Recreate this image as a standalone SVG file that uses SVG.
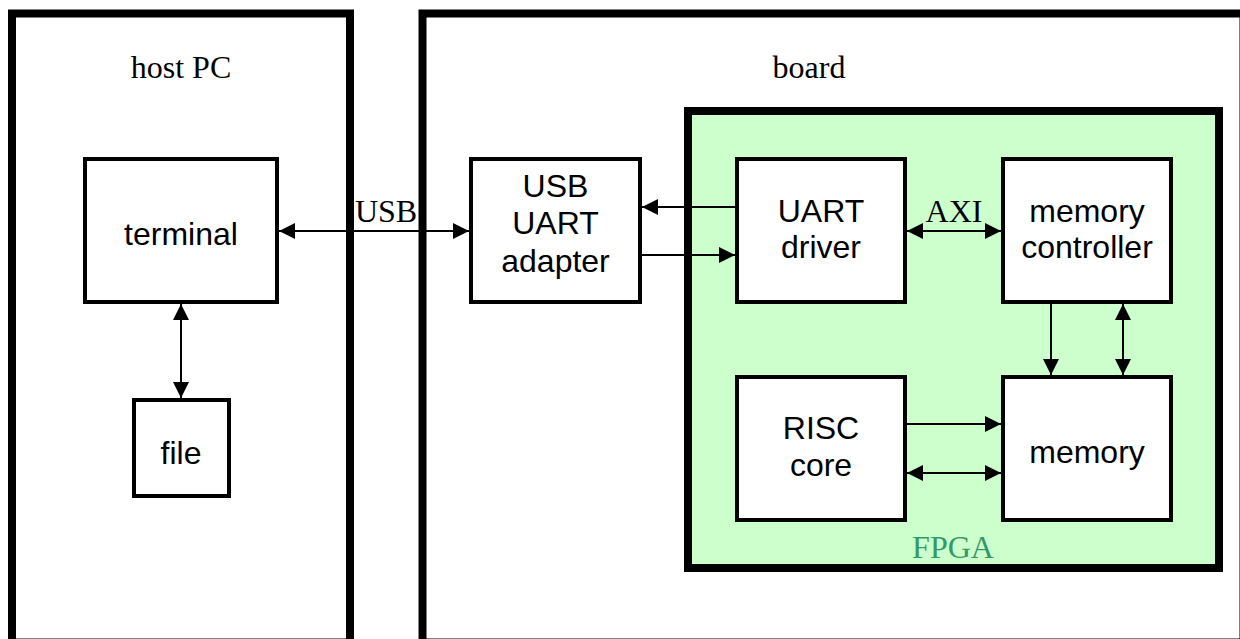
<svg xmlns="http://www.w3.org/2000/svg" width="1240" height="639" viewBox="0 0 1240 639">
  <style>
    .frame { fill: #ffffff; stroke: #000000; stroke-width: 8; }
    .fpga { fill: #ccffcc; stroke: #000000; stroke-width: 8; }
    .box { fill: #ffffff; stroke: #000000; stroke-width: 4; }
    .serif { font-family: "Liberation Serif", "Times New Roman", serif; font-size: 32px; text-anchor: middle; fill: #000000; }
    .sans { font-family: "Liberation Sans", Arial, sans-serif; font-size: 32px; text-anchor: middle; fill: #000000; }
    .green { fill: #339966; }
    .wire { fill: none; stroke: #000000; stroke-width: 2; }
    .one { marker-end: url(#head); }
    .two { marker-start: url(#tail); marker-end: url(#head); }
  </style>
  <defs>
    <marker id="head" markerUnits="userSpaceOnUse" markerWidth="16" markerHeight="16" viewBox="0 0 15 15" refX="15" refY="7.5" orient="auto">
      <path d="M0,0 L15,7.5 L0,15 z" fill="#000000"/>
    </marker>
    <marker id="tail" markerUnits="userSpaceOnUse" markerWidth="16" markerHeight="16" viewBox="0 0 15 15" refX="0" refY="7.5" orient="auto">
      <path d="M15,0 L0,7.5 L15,15 z" fill="#000000"/>
    </marker>
  </defs>

  <rect width="1240" height="639" fill="#ffffff"/>

  <!-- enclosures -->
  <g id="host-pc">
    <rect class="frame" x="12" y="13.5" width="338" height="629"/>
    <text class="serif" x="181" y="78">host PC</text>
  </g>
  <g id="board">
    <rect class="frame" x="422.5" y="13.5" width="821" height="629"/>
    <text class="serif" x="809" y="78">board</text>
  </g>
  <g id="fpga">
    <rect class="fpga" x="688" y="111" width="531" height="457"/>
    <text class="serif green" x="953" y="558">FPGA</text>
  </g>

  <!-- blocks -->
  <g id="terminal">
    <rect class="box" x="85" y="159" width="192" height="143"/>
    <text class="sans" x="181" y="245">terminal</text>
  </g>
  <g id="file">
    <rect class="box" x="134" y="400" width="95" height="96"/>
    <text class="sans" x="181" y="464">file</text>
  </g>
  <g id="usb-uart-adapter">
    <rect class="box" x="471" y="159" width="169" height="143"/>
    <text class="sans" x="555.5" y="197">USB</text>
    <text class="sans" x="555.5" y="234">UART</text>
    <text class="sans" x="555.5" y="272">adapter</text>
  </g>
  <g id="uart-driver">
    <rect class="box" x="737" y="159" width="168" height="143"/>
    <text class="sans" x="821" y="222">UART</text>
    <text class="sans" x="821" y="258">driver</text>
  </g>
  <g id="memory-controller">
    <rect class="box" x="1003" y="159" width="168" height="143"/>
    <text class="sans" x="1087" y="222">memory</text>
    <text class="sans" x="1087" y="258">controller</text>
  </g>
  <g id="risc-core">
    <rect class="box" x="737" y="377" width="168" height="143"/>
    <text class="sans" x="821" y="439">RISC</text>
    <text class="sans" x="821" y="476">core</text>
  </g>
  <g id="memory">
    <rect class="box" x="1003" y="377" width="168" height="143"/>
    <text class="sans" x="1087" y="463">memory</text>
  </g>

  <!-- links -->
  <g id="connectors">
    <line class="wire two" x1="279" y1="231" x2="469" y2="231"/>
    <text class="serif" x="386" y="222">USB</text>
    <line class="wire two" x1="181" y1="304" x2="181" y2="398"/>
    <line class="wire one" x1="735" y1="207" x2="642" y2="207"/>
    <line class="wire one" x1="642" y1="255" x2="735" y2="255"/>
    <line class="wire two" x1="907" y1="231" x2="1001" y2="231"/>
    <text class="serif" x="954" y="222">AXI</text>
    <line class="wire one" x1="1051" y1="304" x2="1051" y2="375"/>
    <line class="wire two" x1="1123" y1="304" x2="1123" y2="375"/>
    <line class="wire one" x1="907" y1="424" x2="1001" y2="424"/>
    <line class="wire two" x1="907" y1="473" x2="1001" y2="473"/>
  </g>
</svg>
